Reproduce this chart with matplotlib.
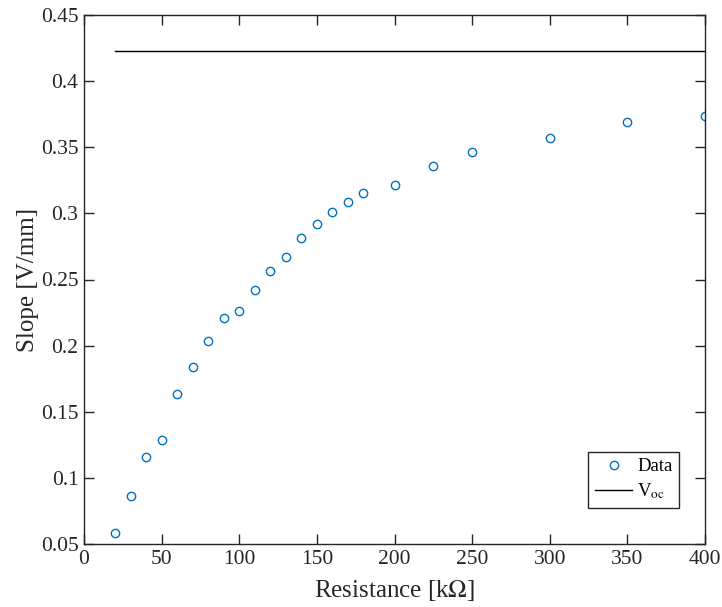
import numpy as np
import matplotlib.pyplot as plt

plt.rcParams['font.family'] = ['Liberation Serif', 'DejaVu Serif']
plt.rcParams['mathtext.fontset'] = 'stix'

resistance = [20, 30, 40, 50, 60, 70, 80, 90, 100, 110, 120, 130, 140, 150,
              160, 170, 180, 200, 225, 250, 300, 350, 400]
slope = [0.0583, 0.0863, 0.1158, 0.1286, 0.1634, 0.1838, 0.2035, 0.2209,
         0.2262, 0.2420, 0.2564, 0.2670, 0.2814, 0.2920, 0.3010, 0.3086,
         0.3154, 0.3215, 0.3358, 0.3464, 0.3570, 0.3690, 0.3736]
voc_x = [20, 400]
voc = 0.4228

fig = plt.figure(figsize=(7.22, 6.07), dpi=100)
ax = fig.add_axes([84 / 722, 63 / 607, 621 / 722, 529 / 607])

ax.plot(resistance, slope, 'o', color='#0072BD', markerfacecolor='none',
        markersize=6, markeredgewidth=1.0, label='Data')
ax.plot(voc_x, [voc, voc], '-', color='black', linewidth=1.0,
        label=r'V$_{\mathrm{oc}}$')

ax.set_xlim(0, 400)
ax.set_ylim(0.05, 0.45)
ax.set_xticks(np.arange(0, 401, 50))
ax.set_yticks(np.arange(0.05, 0.451, 0.05))
ax.set_yticklabels(['0.05', '0.1', '0.15', '0.2', '0.25', '0.3', '0.35', '0.4', '0.45'])
ax.tick_params(direction='in', top=True, right=True, labelsize=15.5,
               length=7.5, width=1.0, colors='#262626', pad=4)
for s in ax.spines.values():
    s.set_linewidth(1.0)
    s.set_color('#262626')

ax.set_xlabel('Resistance [k$\\Omega$]', fontsize=18, color='#262626', labelpad=7)
ax.set_ylabel('Slope [V/mm]', fontsize=18, color='#262626', labelpad=1)

leg = ax.legend(loc='lower right', bbox_to_anchor=(0.958, 0.068), fontsize=13.5,
                fancybox=False, framealpha=1, edgecolor='#262626',
                handlelength=2.0, borderpad=0.35, labelspacing=0.35,
                handletextpad=0.25, borderaxespad=0)
leg.get_frame().set_linewidth(1.0)

fig.savefig('out.png', dpi=100)
